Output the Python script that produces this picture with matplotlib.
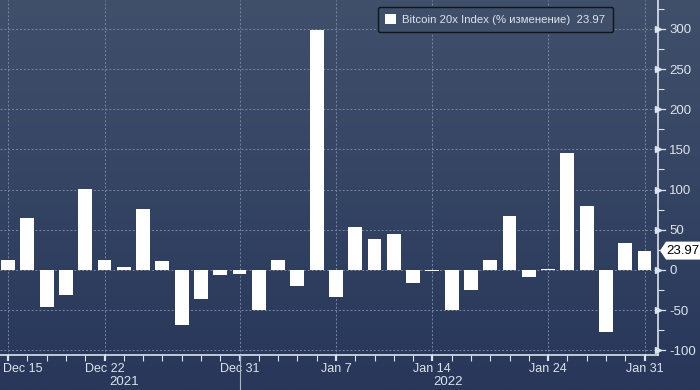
import numpy as np
import pandas as pd
import matplotlib
matplotlib.use("Agg")
import matplotlib.pyplot as plt
import matplotlib.transforms as mtrans
from matplotlib.patches import Polygon, Rectangle
from matplotlib.lines import Line2D

# business days Dec 15 2021 .. Jan 31 2022
dates = pd.bdate_range("2021-12-15", "2022-01-31")
values = [12.5, 64, -46, -31.5, 101, 12.5, 3.5, 76, 11, -69, -36, -6, -5, -50,
          12.5, -20, 299, -34, 53, 38, 44.5, -16, -1, -50, -25, 12, 67, -8.5,
          1, 145, 79.5, -77, 33, 23.97]
label_dates = ["2021-12-15", "2021-12-22", "2021-12-31", "2022-01-07",
               "2022-01-14", "2022-01-24", "2022-01-31"]
label_text = ["Dec 15", "Dec 22", "Dec 31", "Jan 7", "Jan 14", "Jan 24", "Jan 31"]
yticks = [-100, -50, 0, 50, 100, 150, 200, 250, 300]
last = values[-1]

fg = "#dde3ec"
grid_c = "#7587a5"
plt.rcParams["font.family"] = ["Liberation Sans", "DejaVu Sans"]

fig = plt.figure(figsize=(7, 3.9), dpi=100)

# gradient background over the whole figure
bg = fig.add_axes([0, 0, 1, 1], zorder=0)
top = np.array([64, 80, 107]) / 255
bot = np.array([40, 55, 90]) / 255
t = np.linspace(0, 1, 256)[:, None]
grad = (top * (1 - t) + bot * t)[:, None, :]
bg.imshow(grad, aspect="auto", extent=[0, 1, 0, 1])
bg.set_axis_off()

ax_l, ax_b, ax_w, ax_h = 0.0, 35 / 390, 658 / 700, 355 / 390
ax = fig.add_axes([ax_l, ax_b, ax_w, ax_h], zorder=1)
ax.patch.set_alpha(0)

x = np.arange(len(values))
ax.bar(x, values, width=0.72, color="white", zorder=3)

ymin, ymax = -106, 336
ax.set_xlim(-0.42, 33.7)
ax.set_ylim(ymin, ymax)

pos = [list(dates).index(pd.Timestamp(d)) for d in label_dates]
ax.set_xticks(pos)
ax.set_xticklabels(label_text)
ax.set_xticks(x, minor=True)
ax.tick_params(axis="x", which="both", colors=fg, labelsize=9, direction="out")
ax.tick_params(axis="x", which="major", length=4, width=1.6, pad=1.5)
ax.tick_params(axis="x", which="minor", length=4, width=0.8)
first = ax.get_xticklabels()[0]
first.set_ha("left")
first.set_transform(first.get_transform() +
                    mtrans.ScaledTranslation(-5 / 100, 0, fig.dpi_scale_trans))

ax.yaxis.tick_right()
ax.set_yticks(yticks)
ax.set_yticklabels([str(v) for v in yticks])
ax.set_yticks(np.arange(-75, 336, 50), minor=True)
ax.tick_params(axis="y", which="major", length=0, pad=8, colors=fg, labelsize=9.5)
ax.tick_params(axis="y", which="minor", length=4, width=0.8, colors=fg)

# arrow-shaped major y ticks
tr = ax.get_yaxis_transform()
ax.plot([1.0] * len(yticks), yticks, marker=">", ms=4, ls="none", color=fg,
        transform=tr, clip_on=False, zorder=5)
for v in yticks:
    ax.add_line(Line2D([1.0, 1.01], [v, v], color=fg, lw=0.9, transform=tr,
                       clip_on=False))

ax.grid(True, which="major", color=grid_c, ls=(0, (2, 2)), lw=0.7)
ax.set_axisbelow(True)
for s in ["top", "left"]:
    ax.spines[s].set_visible(False)
for s in ["bottom", "right"]:
    ax.spines[s].set_color(fg)
    ax.spines[s].set_linewidth(1.2)

# year separator and labels
sep = (pos[2] + 0.42) / (33.7 + 0.42) * ax_w
fig.add_artist(Line2D([sep, sep], [0, ax_b], color="#aab4c6", lw=0.8))
fig.text(124 / 700, 8 / 390, "2021", color=fg, fontsize=9.5, ha="center", va="center")
fig.text(448 / 700, 8 / 390, "2022", color=fg, fontsize=9.5, ha="center", va="center")

# legend
h = Rectangle((0, 0), 1, 1, facecolor="white", edgecolor="none")
leg = ax.legend([h], [f"Bitcoin 20x Index (% изменение)  {last:.2f}"],
                loc="upper left", bbox_to_anchor=(378 / 658, 1 - 7 / 355),
                borderaxespad=0, fontsize=8.2, frameon=True, fancybox=True,
                handlelength=0.9, handleheight=0.9, handletextpad=0.6,
                borderpad=0.65, labelcolor=fg)
leg.get_frame().set_facecolor((63 / 255, 78 / 255, 105 / 255))
leg.get_frame().set_edgecolor("#10141c")
leg.get_frame().set_linewidth(1.0)
leg.get_frame().set_alpha(1)

# last value tag
yf = ax_b + ax_h * (last - ymin) / (ymax - ymin)
x0 = 660 / 700
hh = 9 / 390
tag = Polygon([(x0, yf), (x0 + 6 / 700, yf + hh), (1.0, yf + hh), (1.0, yf - hh),
               (x0 + 6 / 700, yf - hh)], closed=True, facecolor="white",
              edgecolor="none", transform=fig.transFigure, zorder=6)
fig.add_artist(tag)
fig.text(666 / 700, yf, f"{last:.2f}", color="black", fontsize=9.5, va="center",
         ha="left", zorder=7)

fig.savefig("out.png", dpi=100)
